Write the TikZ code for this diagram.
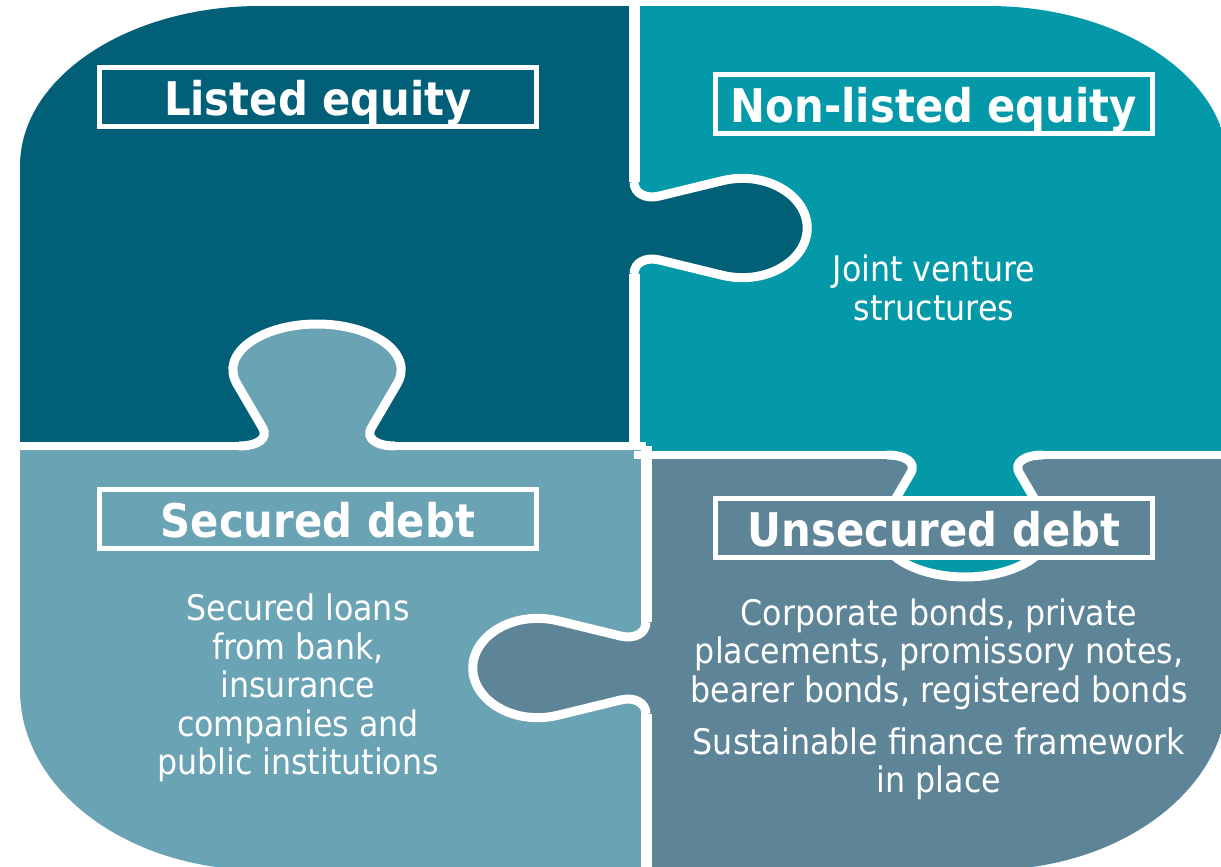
\documentclass[tikz,border=0pt]{standalone}
\usepackage{fontspec}
\setmainfont{DejaVu Sans Condensed}
\usepackage{tikz}
\usetikzlibrary{positioning}

\definecolor{listedblue}{HTML}{025F78}
\definecolor{nonlistedteal}{HTML}{0399A8}
\definecolor{securedblue}{HTML}{6AA3B4}
\definecolor{unsecuredslate}{HTML}{5E8498}

% one puzzle knob, base on the x axis, growing along +y
\tikzset{
    knob outline/.style={insert path={(-78,0) .. controls (-58,0) and (-49,8.5) .. (-54,17.5)
        -- (-80,62) .. controls (-98,93) and (-55,122) .. (0,122)
        .. controls (55,122) and (98,93) .. (80,62)
        -- (54,17.5) .. controls (49,8.5) and (58,0) .. (78,0)}},
    pics/knob/.style={code={
        \fill[#1] [knob outline] -- cycle;
        \draw[white, line width=4.5pt] [knob outline];
    }}
}

\begin{document}
\begin{tikzpicture}[x=0.5pt, y=-0.5pt,
    seam/.style={white, line width=4pt},
    title/.style={draw=white, line width=2.5pt, text=white, inner sep=0pt,
        minimum width=218.5pt, text height=24pt, text depth=5.5pt,
        font=\bfseries\fontsize{23.2}{28}\selectfont},
    desc/.style={text=white, align=center, inner sep=0pt,
        font=\fontsize{17.6}{19.3}\selectfont}
]
    \useasboundingbox (0,0) rectangle (1221,867);

    % Outer rounded outline
    \clip (20,166) .. controls (20,77.6) and (127.4,6) .. (260,6)
        -- (988,6) .. controls (1120.6,6) and (1228,77.6) .. (1228,166)
        -- (1228,690) .. controls (1228,789.4) and (1120.6,870) .. (988,870)
        -- (260,870) .. controls (127.4,870) and (20,789.4) .. (20,690) -- cycle;

    % Pieces
    \fill[listedblue] (0,0) rectangle (634,446);
    \fill[nonlistedteal] (634,0) rectangle (1240,455);
    \fill[securedblue] (0,446) rectangle (646,880);
    \fill[unsecuredslate] (646,455) rectangle (1240,880);

    % Knobs
    \pic[xscale=1.42, yscale=0.59, rotate=90] at (634,228) {knob=listedblue};
    \pic[yscale=-1] at (317,446) {knob=securedblue};
    \pic at (965,455) {knob=nonlistedteal};
    \pic[xscale=1.42, yscale=0.59, rotate=-90] at (646,668) {knob=unsecuredslate};

    % Seams
    \draw[seam, line width=5.5pt] (634,-10) -- (634,182) (634,274) -- (634,450);
    \draw[seam] (0,446) -- (239,446) (395,446) -- (646,446);
    \draw[seam] (634,455) -- (887,455) (1043,455) -- (1240,455);
    \draw[seam, line width=5.5pt] (646,446) -- (646,622) (646,714) -- (646,880);

    % Titles
    \node[title, fill=listedblue] (listed) at (318,96.5) {Listed equity};
    \node[title, fill=nonlistedteal] (nonlisted) at (934,104) {Non-listed equity};
    \node[title, fill=securedblue] (secured) at (318,518.5) {Secured debt};
    \node[title, fill=unsecuredslate] (unsecured) at (934,527.5) {Unsecured debt};

    % Descriptions
    \node[desc] (venture) at (934,288) {Joint venture\\structures};
    \node[desc] (loans) at (298,688) {Secured loans\\from bank,\\insurance\\companies and\\public institutions};
    \node[desc] (bonds) at (939,654) {Corporate bonds, private\\placements, promissory notes,\\bearer bonds, registered bonds};
    \node[desc, below=8.5pt of bonds] (framework) {Sustainable finance framework\\in place};

\end{tikzpicture}
\end{document}
